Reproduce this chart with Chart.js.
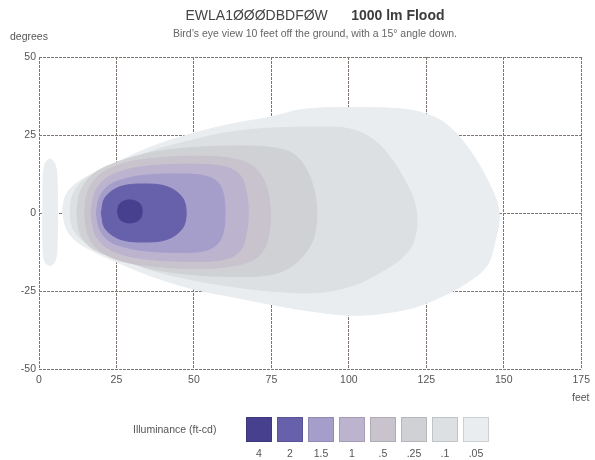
<!DOCTYPE html>
<html>
<head>
<meta charset="utf-8">
<title>EWLA1ØØØDBDFØW 1000 lm Flood</title>
<script src="https://cdn.jsdelivr.net/npm/chart.js@4.4.1/dist/chart.umd.min.js"></script>
<style>
    html, body { margin: 0; padding: 0; background: #fff; }
    #wrap { position: relative; width: 595px; height: 460px; font-family: 'Liberation Sans', Arial, sans-serif; color: #555; }
    #wrap canvas { position: absolute; left: 0; top: 0; }
    .lbl { position: absolute; white-space: pre; }
    #title { left: 0; width: 630px; top: 7px; text-align: center; font-size: 14px; color: #454545; }
    #title b { color: #3c3c3c; }
    #subtitle { left: 0; width: 630px; top: 27px; text-align: center; font-size: 10.5px; color: #666; }
    #ylab { left: 10px; top: 30px; font-size: 10.5px; }
    #xlab { left: 572px; top: 391px; font-size: 10.5px; }
    #legend-name { left: 133px; top: 423px; font-size: 10.5px; }
    .swatch { position: absolute; top: 417px; width: 26px; height: 25px; box-sizing: border-box; border: 1px solid rgba(0,0,0,0.12); }
    .swlab { position: absolute; top: 447px; width: 26px; text-align: center; font-size: 10.5px; }
</style>
</head>
<body>
<div id="wrap">
    <canvas id="beam" width="595" height="460"></canvas>
    <div class="lbl" id="title">EWLA1ØØØDBDFØW      <b>1000 lm Flood</b></div>
    <div class="lbl" id="subtitle">Bird’s eye view 10 feet off the ground, with a 15° angle down.</div>
    <div class="lbl" id="ylab">degrees</div>
    <div class="lbl" id="xlab">feet</div>
    <div class="lbl" id="legend-name">Illuminance (ft-cd)</div>
</div>
<script>
/* ---- 데이터: 조도 등고선 (feet, degrees) ---- */
var xTicks = [0, 25, 50, 75, 100, 125, 150, 175];
var yTicks = [-50, -25, 0, 25, 50];
var levelLabels = ['4', '2', '1.5', '1', '.5', '.25', '.1', '.05'];

var contour4 = [[25.3, 0.5], [26.2, 3.1], [29.3, 4.2], [32.4, 3.1], [33.3, 0.5], [32.4, -2.1], [29.3, -3.2], [26.2, -2.1], [25.3, 0.5]];
var contour2 = [[20.1, 0], [21.3, 4.9], [26.1, 8.4], [33.8, 9.3], [41.5, 8.4], [46.3, 4.9], [47.5, 0],
    [46.3, -4.9], [41.5, -8.4], [33.8, -9.3], [26.1, -8.4], [21.3, -4.9], [20.1, 0]];
var contour1p5 = [[18.5, 0], [19.5, 5], [22.5, 8.8], [28, 11], [35, 12.2], [45, 12.5], [53, 12], [57.5, 10], [59.5, 6], [60, 0],
    [59.5, -6], [57.5, -10], [53, -12.2], [45, -12.6], [35, -12.2], [28, -11], [22.5, -8.9], [19.5, -5], [18.5, 0]];
var contour1 = [[16.8, 0], [18, 6.5], [21.5, 11], [28, 13.8], [37, 15.2], [50, 15.6], [60, 14.8], [65, 12], [67, 6], [67.5, 0],
    [67, -6], [65, -12], [60, -14.8], [50, -15.5], [37, -15], [28, -13.6], [21.5, -10.8], [18, -6.5], [16.8, 0]];
var contour0p5 = [[14.7, 0], [15.8, 7], [19.5, 12.2], [27, 15.8], [37, 17.5], [50, 18.2], [62, 17.5], [69, 15], [73, 9.5], [74.7, 0],
    [73.5, -9.5], [70, -14.5], [62, -17], [50, -17.8], [37, -17], [27, -15.5], [19.5, -12], [15.8, -7], [14.7, 0]];
var contour0p25 = [[12.2, 0], [13.4, 7], [17.5, 12.5], [25, 16.2], [37, 19.5], [50, 21], [65, 21.5], [75, 21], [82, 19], [86, 14.5],
    [88.3, 9], [89.6, 2], [89.3, -5], [88, -9.5], [85, -14], [80, -18], [73, -20], [61, -20.3], [50, -19.8], [37, -18],
    [25, -14.5], [17.5, -11.5], [13.4, -7], [12.2, 0]];
var contour0p1 = [[10, 0], [11, 6], [15, 11], [25, 15.5], [37, 20], [50, 23.5], [62, 26], [75, 27.2], [90, 27.5], [100, 27],
    [108, 23.5], [114, 17], [118, 10.5], [121, 4], [122, -3], [120.5, -10], [117, -14.5], [111, -18.5], [102, -23], [90, -25.5],
    [75, -25], [62, -23.5], [50, -21.5], [37, -18.5], [25, -14], [15, -9.5], [11, -5], [10, 0]];
var contour0p05 = [[7.5, 1], [8.8, 6], [12, 9.5], [18, 13], [25, 16.3], [37, 21.5], [50, 25.6], [62, 28.5], [75, 30.8], [85, 33.2],
    [100, 33.8], [115, 33.5], [123, 32.3], [131, 28.8], [139, 20.2], [146, 8], [148.5, 0], [147.5, -7.7], [144.5, -17],
    [138, -22.4], [129.5, -27], [119, -30.8], [103, -32.8], [88, -31.5], [75, -29.3], [62, -26.8], [50, -24.4], [37, -20.5],
    [25, -15.7], [18, -12.5], [12, -9], [8.8, -5], [7.5, 1]];
var contour0p05Left = [[1.3, 12], [2, 16], [3.5, 17.3], [5, 16], [5.8, 12], [5.8, -12], [5, -15.8], [3.5, -16.8], [2, -15.8], [1.3, -12], [1.3, 12]];

/* ---- 스타일 ---- */
var levelColors = ['#46408e', '#6760ab', '#a59ecb', '#bcb3cf', '#c8c3cd', '#cfd1d5', '#dce0e3', '#e9edf0'];
var gridColor = '#7f7470';

(function() {
    'use strict';

    var shapes = [
        { level: 0, pts: contour4 },
        { level: 1, pts: contour2 },
        { level: 2, pts: contour1p5 },
        { level: 3, pts: contour1 },
        { level: 4, pts: contour0p5 },
        { level: 5, pts: contour0p25 },
        { level: 6, pts: contour0p1 },
        { level: 7, pts: contour0p05 },
        { level: 7, pts: contour0p05Left }
    ];

    var datasets = shapes.map(function(s) {
        return {
            label: levelLabels[s.level],
            data: s.pts.map(function(p) { return { x: p[0], y: p[1] }; }),
            backgroundColor: levelColors[s.level],
            borderColor: levelColors[s.level],
            borderWidth: 1,
            pointRadius: 0,
            tension: 0.35,
            fill: 'shape'
        };
    });

    var tickFont = { family: "'Liberation Sans', Arial, sans-serif", size: 10.5 };

    new Chart(document.getElementById('beam'), {
        type: 'line',
        data: { datasets: datasets },
        options: {
            responsive: false,
            animation: false,
            layout: { padding: { top: 57, right: 10, bottom: 0, left: 0 } },
            plugins: {
                legend: { display: false },
                title: { display: false },
                tooltip: { enabled: false }
            },
            scales: {
                x: {
                    type: 'linear',
                    min: 0,
                    max: 175,
                    afterBuildTicks: function(s) { s.ticks = xTicks.map(function(v) { return { value: v }; }); },
                    afterFit: function(s) { s.height = 91; },
                    ticks: { color: '#555', font: tickFont, padding: 5, maxRotation: 0 },
                    grid: { color: gridColor, lineWidth: 1, drawTicks: false },
                    border: { display: false, dash: [3, 1] }
                },
                y: {
                    type: 'linear',
                    min: -50,
                    max: 50,
                    afterBuildTicks: function(s) { s.ticks = yTicks.map(function(v) { return { value: v }; }); },
                    afterFit: function(s) { s.width = 39; },
                    ticks: { color: '#555', font: tickFont, padding: 3 },
                    grid: { color: gridColor, lineWidth: 1, drawTicks: false },
                    border: { display: false, dash: [3, 1] }
                }
            }
        }
    });

    /* ---- 범례: 조도 색상 ---- */
    var wrap = document.getElementById('wrap');
    levelLabels.forEach(function(lab, i) {
        var sw = document.createElement('div');
        sw.className = 'swatch';
        sw.style.left = (246 + i * 31) + 'px';
        sw.style.background = levelColors[i];
        wrap.appendChild(sw);

        var t = document.createElement('div');
        t.className = 'lbl swlab';
        t.style.left = (246 + i * 31) + 'px';
        t.textContent = lab;
        wrap.appendChild(t);
    });
})();
</script>
</body>
</html>
